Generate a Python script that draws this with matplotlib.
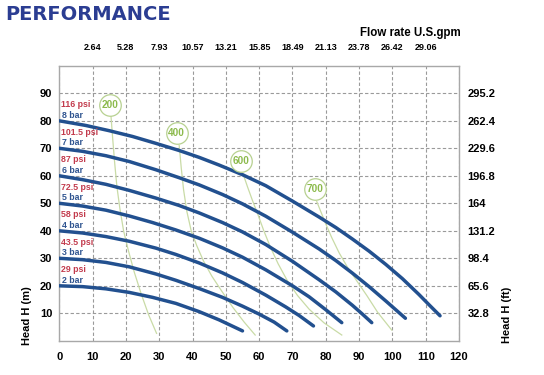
import matplotlib.pyplot as plt

plt.rcParams['font.family'] = ['Liberation Sans', 'DejaVu Sans']
plt.rcParams['font.weight'] = 'bold'

# axis ticks
flow_ticks = [10, 20, 30, 40, 50, 60, 70, 80, 90, 100, 110]
gpm_labels = ["2.64", "5.28", "7.93", "10.57", "13.21", "15.85",
              "18.49", "21.13", "23.78", "26.42", "29.06"]
head_ticks = [10, 20, 30, 40, 50, 60, 70, 80, 90]
ft_labels = ["32.8", "65.6", "98.4", "131.2", "164", "196.8", "229.6", "262.4", "295.2"]

# air pressure curves (flow l/min, head m)
bar_names = ["2 bar", "3 bar", "4 bar", "5 bar", "6 bar", "7 bar", "8 bar"]
psi_names = ["29 psi", "43.5 psi", "58 psi", "72.5 psi", "87 psi", "101.5 psi", "116 psi"]
bar_heads = [20, 30, 40, 50, 60, 70, 80]
curve_q = [
    [0, 7, 14, 21, 28, 35, 42, 48, 55],
    [0, 7, 14, 21, 29, 35, 42, 49, 55, 60, 64.5, 68.3],
    [0, 7, 14, 21, 29, 35, 42, 49, 55, 62, 68, 72, 76.3],
    [0, 7, 14, 21, 28, 35, 42, 49, 55, 62, 70, 75, 80, 84.8],
    [0, 7, 14, 21, 29, 36, 42, 49, 55, 62, 70, 78, 83, 88, 91, 93.8],
    [0, 7, 14, 21, 29, 36, 42, 49, 55, 62, 70, 78, 83, 88, 93, 98, 101, 103.9],
    [0, 8, 15, 22, 29, 36, 42, 48, 55, 62, 70, 78, 83, 88, 93, 98, 103, 108, 111, 114.3],
]
curve_h = [
    [20, 19.7, 18.9, 17.6, 15.8, 13.6, 10.6, 7.6, 3.6],
    [30, 29.5, 28.5, 26.9, 24.3, 22, 19, 15.8, 12.6, 9.7, 6.8, 3.6],
    [40, 39.2, 37.9, 36.2, 33.7, 31.4, 28.3, 24.7, 21.2, 16.6, 12.3, 9.2, 5.4],
    [50, 49, 47.5, 45.4, 43, 40.3, 37.3, 33.8, 30.4, 25.8, 20, 16, 11.3, 6.6],
    [60, 58.6, 56.9, 54.7, 51.9, 49.2, 46.5, 43, 39.6, 35, 28.9, 22.2, 17.8, 12.9, 9.7, 6.6],
    [70, 68.9, 67.3, 65.2, 62.2, 59.3, 56.7, 53.2, 49.8, 45.3, 39.5, 33.4, 29.2, 24.6, 19.7, 14.5, 11.3, 8.2],
    [80, 78.3, 76.4, 74.3, 71.8, 69.2, 66.7, 63.9, 60.4, 56.4, 50.8, 45, 41.2, 37, 32.6, 27.8, 22.6, 16.8, 13.1, 9.1],
]

# air consumption lines (Nl/min)
air_names = ["200", "400", "600", "700"]
air_label_q = [15.2, 35.2, 54.5, 76.8]
air_label_h = [85.8, 75.7, 65.5, 55.1]
air_q = [
    [15.5, 16.0, 16.6, 17.3, 18.2, 19.3, 20.7, 22.5, 24.6, 26.8, 29.2],
    [36, 36.6, 37.3, 38.3, 39.6, 41.3, 43.3, 45.8, 48.8, 52.2, 55.5, 58.8],
    [55.2, 56.5, 58, 59.6, 61.4, 63.4, 65.7, 68.4, 71.5, 75, 79.5, 84.8],
    [77.3, 78.5, 80, 81.8, 84, 86.5, 89.3, 92.3, 95.6, 99.8],
]
air_h = [
    [82, 74, 65, 56, 48, 40, 33, 25, 17, 9.5, 2.7],
    [71, 63, 55, 47, 40, 34.5, 29, 23.5, 18, 12, 6.8, 2.1],
    [60.6, 56, 51, 46, 40, 34, 28, 22, 16.5, 11.5, 6.5, 2.1],
    [50.6, 47, 42.5, 37.5, 32, 26.8, 21.8, 16.5, 10.3, 3.9],
]

blue = '#22508f'
green_line = '#c9dba6'
green_edge = '#b7d190'
green_text = '#8cba4c'
red = '#c23a4c'
bar_blue = '#2f5490'

fig = plt.figure(figsize=(5.44, 3.75), dpi=100)
ax = fig.add_axes([0.109, 0.0912, 0.7348, 0.7333])
ax.set_xlim(0, 120)
ax.set_ylim(0, 100)

ax.set_xticks(range(0, 121, 10))
ax.set_yticks(head_ticks)
ax.tick_params(length=0, labelsize=8)
ax.tick_params(axis='x', pad=8)
ax.tick_params(axis='y', pad=5)
ax.grid(True, color='#9a9a9a', linestyle=(0, (3, 2)), linewidth=0.8)
for s in ax.spines.values():
    s.set_color('#a8a8a8')
    s.set_linewidth(1.0)

for q, h in zip(air_q, air_h):
    ax.plot(q, h, color=green_line, linewidth=0.9, zorder=2)
for name, q, h in zip(air_names, air_label_q, air_label_h):
    ax.plot([q], [h], marker='o', markersize=15.5, markerfacecolor='white',
            markeredgecolor=green_edge, markeredgewidth=0.9, zorder=4)
    ax.text(q, h, name, color=green_text, fontsize=7.2, fontweight='bold',
            ha='center', va='center', zorder=5)

for q, h in zip(curve_q, curve_h):
    ax.plot(q, h, color=blue, linewidth=2.5, solid_capstyle='round',
            solid_joinstyle='round', zorder=3)

for bname, pname, h0 in zip(bar_names, psi_names, bar_heads):
    ax.text(0.5, h0 + 5.8, pname, color=red, fontsize=6.3, fontweight='bold',
            ha='left', va='center', zorder=5)
    ax.text(0.9, h0 + 2.0, bname, color=bar_blue, fontsize=6.3, fontweight='bold',
            ha='left', va='center', zorder=5)

top = ax.secondary_xaxis('top')
top.set_xticks(flow_ticks, gpm_labels)
top.tick_params(length=0, labelsize=6.5, pad=10)
top.spines['top'].set_visible(False)

right = ax.secondary_yaxis('right')
right.set_yticks(head_ticks, ft_labels)
right.tick_params(length=0, labelsize=8, pad=6)
right.spines['right'].set_visible(False)

fig.text(0.754, 0.912, "Flow rate U.S.gpm", fontsize=8.3, fontweight='bold',
         ha='center', va='center')
fig.text(0.049, 0.158, "Head H (m)", rotation=90, fontsize=8, fontweight='bold',
         ha='center', va='center')
fig.text(0.932, 0.16, "Head H (ft)", rotation=90, fontsize=8, fontweight='bold',
         ha='center', va='center')
fig.text(0.009, 0.962, "PERFORMANCE", fontsize=14, fontweight='bold',
         family='DejaVu Sans', color='#2b3d92', ha='left', va='center')

fig.savefig("out.png", dpi=100)
